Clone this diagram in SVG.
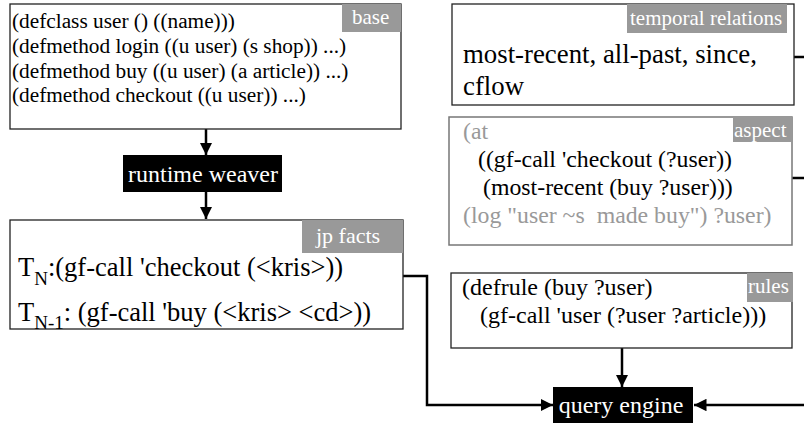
<svg xmlns="http://www.w3.org/2000/svg" width="804" height="424" viewBox="0 0 804 424">
<defs>
<marker id="ah" viewBox="0 0 10 10" refX="10" refY="5" markerWidth="5" markerHeight="5" orient="auto" markerUnits="strokeWidth">
<path d="M0,0 L10,5 L0,10 Z" fill="#000"/>
</marker>
</defs>
<g id="connectors" fill="none" stroke="#000" stroke-width="2.5">
<line x1="206" y1="129" x2="206" y2="155" marker-end="url(#ah)"/>
<line x1="206" y1="192" x2="206" y2="219" marker-end="url(#ah)"/>
<polyline points="403,276 427,276 427,405 553,405" marker-end="url(#ah)"/>
<line x1="804" y1="405" x2="694" y2="405" marker-end="url(#ah)"/>
<line x1="622" y1="348" x2="622" y2="387" marker-end="url(#ah)"/>
<line x1="794" y1="57" x2="804" y2="57"/>
<line x1="792" y1="178" x2="804" y2="178"/>
</g>
<g id="base">
<rect x="10" y="4" width="391" height="125" fill="#fff" stroke="#222" stroke-width="1.3"/>
<rect x="342" y="4" width="59" height="28" fill="#999"/>
<text x="352" y="24" font-size="21" font-family="Liberation Serif" fill="#fff">base</text>
<text x="12" y="28" font-size="21.3" font-family="Liberation Serif">(defclass user () ((name)))</text>
<text x="12" y="53" font-size="21.3" font-family="Liberation Serif">(defmethod login ((u user) (s shop)) ...)</text>
<text x="12" y="78" font-size="21.3" font-family="Liberation Serif">(defmethod buy ((u user) (a article)) ...)</text>
<text x="12" y="102" font-size="21.3" font-family="Liberation Serif">(defmethod checkout ((u user)) ...)</text>
</g>
<g id="runtime-weaver">
<rect x="123" y="155" width="159" height="37" fill="#000"/>
<text x="203" y="182" font-size="24" font-family="Liberation Serif" fill="#fff" text-anchor="middle">runtime weaver</text>
</g>
<g id="jp-facts">
<rect x="10" y="220" width="393" height="109" fill="#fff" stroke="#222" stroke-width="1.3"/>
<rect x="302" y="220" width="101" height="33" fill="#999"/>
<text x="316" y="243" font-size="22" font-family="Liberation Serif" fill="#fff">jp facts</text>
<text x="18" y="276" font-size="26.5" font-family="Liberation Serif">T<tspan font-size="19" dy="9">N</tspan><tspan dy="-9" font-size="26.5">:(gf-call 'checkout (&lt;kris&gt;))</tspan></text>
<text x="18" y="321" font-size="26.5" font-family="Liberation Serif">T<tspan font-size="19" dy="8">N-1</tspan><tspan dy="-8" font-size="26.5">: (gf-call 'buy (&lt;kris&gt; &lt;cd&gt;))</tspan></text>
</g>
<g id="temporal-relations">
<rect x="452" y="4" width="342" height="101" fill="#fff" stroke="#222" stroke-width="1.3"/>
<rect x="627" y="4" width="160" height="29" fill="#999"/>
<text x="630" y="25" font-size="21" font-family="Liberation Serif" fill="#fff">temporal relations</text>
<text x="463" y="63" font-size="26.8" font-family="Liberation Serif">most-recent, all-past, since,</text>
<text x="463" y="95" font-size="26.8" font-family="Liberation Serif">cflow</text>
</g>
<g id="aspect">
<rect x="449" y="117" width="343" height="128" fill="#fff" stroke="#777" stroke-width="1.5"/>
<rect x="733" y="117" width="59" height="25" fill="#999"/>
<text x="734" y="137" font-size="21" font-family="Liberation Serif" fill="#fff">aspect</text>
<text x="463" y="139" font-size="23.8" font-family="Liberation Serif" fill="#999">(at</text>
<text x="478" y="167" font-size="23.8" font-family="Liberation Serif">((gf-call 'checkout (?user))</text>
<text x="483" y="195" font-size="23.8" font-family="Liberation Serif">(most-recent (buy ?user)))</text>
<text x="463" y="223" font-size="23.8" font-family="Liberation Serif" fill="#999" xml:space="preserve">(log "user ~s  made buy") ?user)</text>
</g>
<g id="rules">
<rect x="451" y="273" width="341" height="75" fill="#fff" stroke="#222" stroke-width="1.3"/>
<rect x="747" y="273" width="46" height="29" fill="#999"/>
<text x="748" y="293" font-size="21" font-family="Liberation Serif" fill="#fff">rules</text>
<text x="462" y="295" font-size="24" font-family="Liberation Serif">(defrule (buy ?user)</text>
<text x="480" y="323" font-size="24" font-family="Liberation Serif">(gf-call 'user (?user ?article)))</text>
</g>
<g id="query-engine">
<rect x="553" y="387" width="140" height="36" fill="#000"/>
<text x="621" y="413" font-size="24" font-family="Liberation Serif" fill="#fff" text-anchor="middle">query engine</text>
</g>
</svg>
